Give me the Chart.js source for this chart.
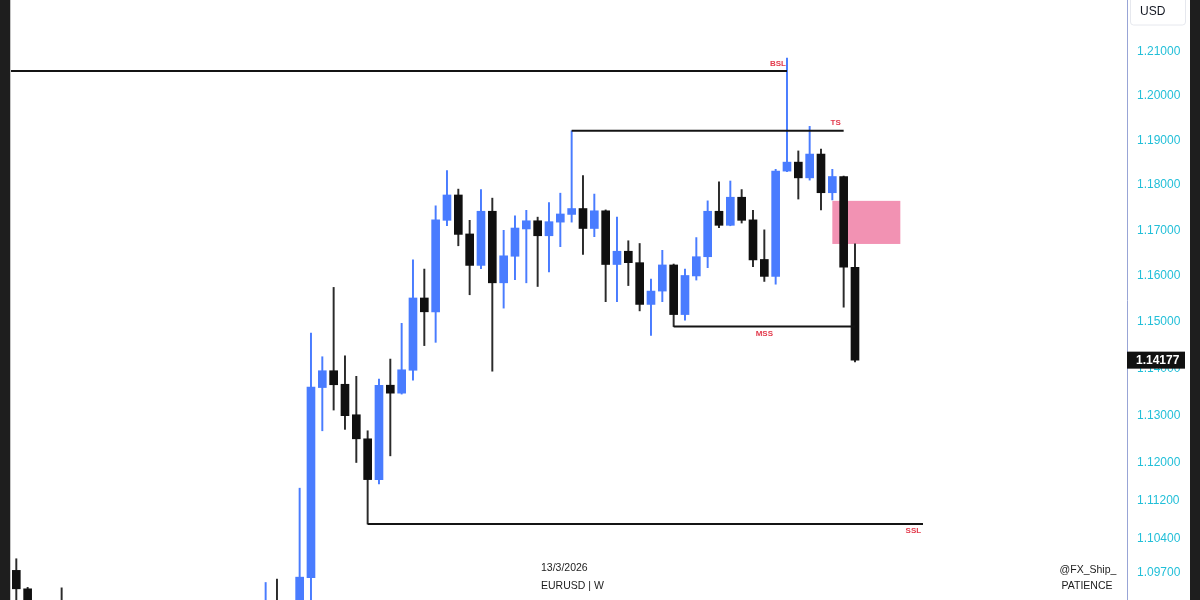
<!DOCTYPE html>
<html lang="en">
<head>
<meta charset="UTF-8">
<title>EURUSD | W</title>
<script src="https://cdn.jsdelivr.net/npm/chart.js"></script>
<style>
    html, body { margin: 0; padding: 0; background: #1e1e1e; }
    body { width: 1200px; height: 600px; position: relative; overflow: hidden; }
    #frame { position: absolute; left: 10px; top: 0; width: 1179px; height: 600px;
             background: #fff; border-left: 1px solid #c4c4c4; }
    canvas { display: block; }
</style>
</head>
<body>
<div id="frame"><canvas id="chart" width="1179" height="600"></canvas></div>
<script>
// weekly EURUSD candles, one per week, oldest first (last one = week of 13/3/2026)
const opens = [
    1.0975, 1.0937, 1.0867, 1.0797, 1.0834, 1.0719, 1.0545, 1.0418, 1.0577, 1.0567,
    1.0500, 1.0430, 1.0427, 1.0307, 1.0244, 1.0272, 1.0493, 1.0362, 1.0328, 1.0491,
    1.0459, 1.0375, 1.0833, 1.0880, 1.0815, 1.0824, 1.0960, 1.1359, 1.1395, 1.1366,
    1.1301, 1.1250, 1.1164, 1.1364, 1.1347, 1.1396, 1.1552, 1.1522, 1.1722, 1.1778,
    1.1692, 1.1623, 1.1742, 1.1585, 1.1643, 1.1703, 1.1721, 1.1688, 1.1718, 1.1735,
    1.1748, 1.1704, 1.1743, 1.1625, 1.1654, 1.1629, 1.1538, 1.1567, 1.1624, 1.1516,
    1.1600, 1.1642, 1.1742, 1.1711, 1.1773, 1.1723, 1.1636, 1.1599, 1.1831, 1.1851,
    1.1816, 1.1869, 1.1783, 1.1819, 1.1619
];
const highs = [
    1.0999, 1.0940, 1.0870, 1.0905, 1.0939, 1.0742, 1.0609, 1.0597, 1.0630, 1.0595,
    1.0630, 1.0457, 1.0458, 1.0437, 1.0353, 1.0533, 1.0533, 1.0442, 1.0513, 1.0528,
    1.0530, 1.0888, 1.0950, 1.0957, 1.0859, 1.1146, 1.1476, 1.1425, 1.1575, 1.1427,
    1.1383, 1.1267, 1.1377, 1.1420, 1.1497, 1.1635, 1.1615, 1.1754, 1.1832, 1.1791,
    1.1722, 1.1790, 1.1771, 1.1700, 1.1732, 1.1744, 1.1729, 1.1761, 1.1782, 1.1921,
    1.1821, 1.1780, 1.1745, 1.1729, 1.1677, 1.1671, 1.1593, 1.1656, 1.1626, 1.1615,
    1.1684, 1.1765, 1.1807, 1.1809, 1.1790, 1.1744, 1.1701, 1.1835, 1.2085, 1.1876,
    1.1931, 1.1880, 1.1835, 1.1820, 1.1670
];
const lows = [
    1.0907, 1.0761, 1.0761, 1.0760, 1.0683, 1.0497, 1.0335, 1.0423, 1.0460, 1.0453,
    1.0343, 1.0380, 1.0226, 1.0214, 1.0178, 1.0265, 1.0356, 1.0141, 1.0285, 1.0400,
    1.0360, 1.0360, 1.0806, 1.0797, 1.0733, 1.0778, 1.0888, 1.1267, 1.1311, 1.1270,
    1.1200, 1.1071, 1.1155, 1.1214, 1.1345, 1.1375, 1.1449, 1.1456, 1.1710, 1.1666,
    1.1559, 1.1616, 1.1394, 1.1530, 1.1592, 1.1585, 1.1577, 1.1609, 1.1664, 1.1718,
    1.1647, 1.1686, 1.1544, 1.1544, 1.1579, 1.1524, 1.1471, 1.1544, 1.1490, 1.1504,
    1.1591, 1.1618, 1.1706, 1.1710, 1.1716, 1.1620, 1.1588, 1.1582, 1.1830, 1.1769,
    1.1811, 1.1745, 1.1767, 1.1532, 1.1414
];
const closes = [
    1.0937, 1.0867, 1.0797, 1.0834, 1.0719, 1.0545, 1.0418, 1.0577, 1.0567, 1.0500,
    1.0430, 1.0427, 1.0307, 1.0244, 1.0272, 1.0493, 1.0362, 1.0328, 1.0491, 1.0459,
    1.0375, 1.0833, 1.0880, 1.0815, 1.0824, 1.0961, 1.1360, 1.1395, 1.1365, 1.1299,
    1.1250, 1.1164, 1.1364, 1.1347, 1.1397, 1.1552, 1.1522, 1.1723, 1.1778, 1.1691,
    1.1623, 1.1742, 1.1585, 1.1644, 1.1705, 1.1721, 1.1688, 1.1719, 1.1736, 1.1748,
    1.1704, 1.1743, 1.1625, 1.1654, 1.1629, 1.1538, 1.1567, 1.1624, 1.1516, 1.1601,
    1.1642, 1.1742, 1.1711, 1.1773, 1.1722, 1.1635, 1.1599, 1.1831, 1.1851, 1.1816,
    1.1869, 1.1783, 1.1819, 1.1619, 1.14177
];
const weekIndex = opens.map((_, i) => i);

// price axis labels
const yTicks = [1.21, 1.20, 1.19, 1.18, 1.17, 1.16, 1.15, 1.14, 1.13, 1.12, 1.112, 1.104, 1.097];

// liquidity levels drawn on the chart (price, first week, last week)
const levelNames = ['BSL', 'TS', 'MSS', 'SSL'];
const levelPrices = [1.2056, 1.1921, 1.1490, 1.1071];
const levelFrom = [-1, 49, 58, 31];
const levelTo = [68, 73, 74, 80];

// fair value gap box
const fvgTop = 1.1765;
const fvgBottom = 1.1670;
const fvgFrom = 72;
const fvgTo = 78;

const footerLeft = ['13/3/2026', 'EURUSD | W'];
const footerRight = ['@FX_Ship_', 'PATIENCE'];
const currency = 'USD';

const BLUE = '#497cff';
const DARK = '#101010';
const isUp = i => closes[i] >= opens[i];

// where each level's label sits: x in weeks, side of the line
const labelPlace = {
    BSL: { x: 67.2, dy: -7 },
    TS: { x: 72.3, dy: -8 },
    MSS: { x: 66, dy: 7 },
    SSL: { x: 79.15, dy: 7 }
};

const overlay = {
    id: 'overlay',
    beforeDatasetsDraw(chart) {
        const { ctx, scales: { x, y } } = chart;
        ctx.save();
        ctx.fillStyle = '#f292b3';
        const x0 = x.getPixelForValue(fvgFrom), x1 = x.getPixelForValue(fvgTo);
        const y0 = y.getPixelForValue(fvgTop), y1 = y.getPixelForValue(fvgBottom);
        ctx.fillRect(x0, y0, x1 - x0, y1 - y0);
        ctx.restore();
    },
    afterDatasetsDraw(chart) {
        const { ctx, scales: { x, y } } = chart;
        ctx.save();
        ctx.font = 'bold 8px "Liberation Sans"';
        ctx.fillStyle = '#e33a4c';
        ctx.textAlign = 'center';
        ctx.textBaseline = 'middle';
        levelNames.forEach((name, k) => {
            const p = labelPlace[name];
            ctx.fillText(name, x.getPixelForValue(p.x), y.getPixelForValue(levelPrices[k]) + p.dy);
        });
        ctx.restore();
    },
    afterDraw(chart) {
        const { ctx, chartArea, scales: { y } } = chart;
        ctx.save();
        // last price tag
        const last = closes[closes.length - 1];
        const py = y.getPixelForValue(last);
        ctx.fillStyle = '#111';
        ctx.fillRect(chartArea.right, py - 8.5, 58, 17);
        ctx.fillStyle = '#fff';
        ctx.font = 'bold 12px "Liberation Sans"';
        ctx.textBaseline = 'middle';
        ctx.textAlign = 'left';
        ctx.fillText(last.toFixed(5), chartArea.right + 9, py + 0.5);

        // currency box
        ctx.fillStyle = '#fff';
        ctx.strokeStyle = '#e6e8ee';
        ctx.lineWidth = 1;
        ctx.beginPath();
        ctx.roundRect(chartArea.right + 3.5, -4, 55, 29, 3);
        ctx.fill();
        ctx.stroke();
        ctx.fillStyle = '#131722';
        ctx.font = '12px "Liberation Sans"';
        ctx.fillText(currency, chartArea.right + 13, 12);

        // footer
        ctx.fillStyle = '#1c1c1c';
        ctx.font = '10.5px "Liberation Sans"';
        ctx.fillText(footerLeft[0], 530, 568);
        ctx.fillText(footerLeft[1], 530, 586);
        ctx.textAlign = 'center';
        ctx.fillText(footerRight[0], 1077, 570);
        ctx.fillText(footerRight[1], 1076, 586);
        ctx.restore();
    }
};

const levelSets = levelNames.map((name, k) => ({
    type: 'line',
    label: name,
    data: [{ x: levelFrom[k], y: levelPrices[k] }, { x: levelTo[k], y: levelPrices[k] }],
    borderColor: '#141414',
    borderWidth: 2,
    pointRadius: 0,
    order: -1
}));

Chart.defaults.font.family = '"Liberation Sans", Arial, sans-serif';

new Chart(document.getElementById('chart').getContext('2d'), {
    type: 'bar',
    data: {
        datasets: [
            {
                label: 'bodies',
                data: weekIndex.map(i => ({ x: i, y: [opens[i], closes[i]] })),
                backgroundColor: weekIndex.map(i => isUp(i) ? BLUE : DARK),
                barThickness: 8,
                grouped: false,
                order: 0
            },
            {
                label: 'wicks',
                data: weekIndex.map(i => ({ x: i, y: [lows[i], highs[i]] })),
                backgroundColor: weekIndex.map(i => isUp(i) ? BLUE : '#2b2b2b'),
                barThickness: 1.3,
                grouped: false,
                order: 1
            },
            ...levelSets
        ]
    },
    options: {
        responsive: false,
        animation: false,
        devicePixelRatio: 1,
        layout: { padding: 0 },
        plugins: { legend: { display: false }, tooltip: { enabled: false } },
        scales: {
            x: {
                type: 'linear',
                min: -0.468,
                max: 98,
                offset: false,
                display: false
            },
            y: {
                type: 'logarithmic',
                position: 'right',
                min: 1.0914,
                max: 1.2218,
                grid: { display: false, drawTicks: false },
                border: { display: true, color: '#98a4d6', width: 1 },
                ticks: {
                    autoSkip: false,
                    padding: 10,
                    color: '#22bfd8',
                    font: { size: 12 },
                    callback: v => Number(v).toFixed(5)
                },
                afterBuildTicks: s => { s.ticks = yTicks.map(v => ({ value: v })); },
                afterFit: s => { s.width = 63; s.paddingTop = 0; s.paddingBottom = 0; }
            }
        }
    },
    plugins: [overlay]
});
</script>
</body>
</html>
